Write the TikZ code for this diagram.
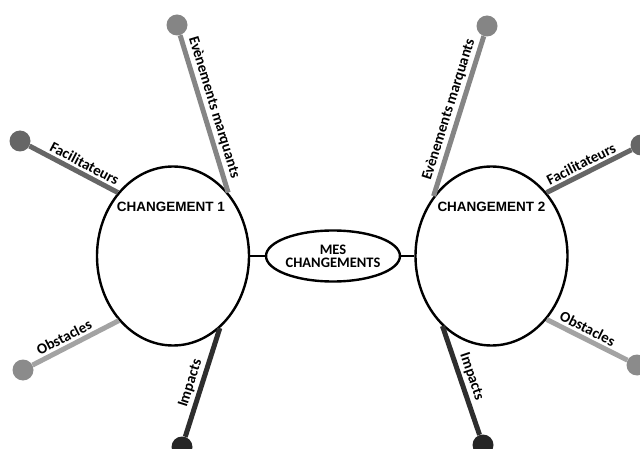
\documentclass[tikz,border=0pt]{standalone}
\usepackage{fontspec}
\newfontfamily\carlito{Carlito}
\newfontfamily\libsans{Liberation Sans}
\usepackage{xcolor}
\definecolor{ink}{HTML}{000000}
\definecolor{evgray}{HTML}{858585}
\definecolor{facgray}{HTML}{666666}
\definecolor{obsgray}{HTML}{A3A3A3}
\definecolor{impgray}{HTML}{2E2E2E}
\usetikzlibrary{shapes.geometric,positioning}

\begin{document}
\begin{tikzpicture}[x=1pt,y=-1pt,
  change/.style={ellipse,draw=ink,line width=2.4pt,fill=white,minimum width=152pt,
    minimum height=179pt,inner sep=0pt},
  hub/.style={ellipse,draw=ink,line width=2.4pt,fill=white,minimum width=126pt,
    minimum height=51pt,inner sep=0pt,align=center,font=\carlito\bfseries\fontsize{14.5}{16}\selectfont},
  title/.style={font=\libsans\bfseries\fontsize{13.5}{15}\selectfont},
  dot/.style={circle,inner sep=0pt,minimum size=21pt},
  branch/.style={line width=5pt},
  lbl/.style={sloped,above=1.5pt,inner sep=1pt,font=\carlito\bfseries\fontsize{15}{17}\selectfont},
  link/.style={draw=ink,line width=2.4pt}]
  \clip (0,0) rectangle (640,449);
  \useasboundingbox (0,0) rectangle (640,449);
  % the three ellipses
  \node[change] (ch1) at (173,256) {};
  \node[change] (ch2) at (491.5,256) {};
  \node[hub] (mes) at (333,256) {MES\\[-3pt]CHANGEMENTS};
  \node[title] (t1) at (171,207) {CHANGEMENT 1};
  \node[title] (t2) at (491.5,207) {CHANGEMENT 2};
  \draw[link] (ch1) -- (mes); \draw[link] (mes) -- (ch2);
  % end dots
  \node[dot,fill=evgray] (ev1) at (177,25) {};
  \node[dot,fill=facgray] (fa1) at (20,141) {};
  \node[dot,fill=obsgray!85!black] (ob1) at (23,370) {};
  \node[dot,fill=impgray!80!black] (im1) at (182,447) {};
  \node[dot,fill=evgray] (ev2) at (487,26) {};
  \node[dot,fill=facgray] (fa2) at (641,145) {};
  \node[dot,fill=obsgray!85!black] (ob2) at (637,365) {};
  \node[dot,fill=impgray!80!black] (im2) at (483,445) {};
  % branches of CHANGEMENT 1
  \draw[branch,evgray] (ev1) -- node[lbl,pos=0.48,text=ink] {Evènements marquants} (ch1.49);
  \draw[branch,facgray] (fa1) -- node[lbl,pos=0.57,text=ink] {Facilitateurs} (ch1.131);
  \draw[branch,obsgray] (ob1) -- node[lbl,pos=0.42,text=ink] {Obstacles} (ch1.230);
  \draw[branch,impgray] (im1) -- node[lbl,pos=0.46,text=ink] {Impacts} (ch1.303);
  % branches of CHANGEMENT 2
  \draw[branch,evgray] (ch2.134) -- node[lbl,pos=0.52,text=ink] {Evènements marquants} (ev2);
  \draw[branch,facgray] (ch2.49) -- node[lbl,pos=0.46,text=ink] {Facilitateurs} (fa2);
  \draw[branch,obsgray] (ch2.311) -- node[lbl,pos=0.45,text=ink] {Obstacles} (ob2);
  \draw[branch,impgray] (ch2.235) -- node[lbl,pos=0.5,text=ink] {Impacts} (im2);
\end{tikzpicture}
\end{document}
